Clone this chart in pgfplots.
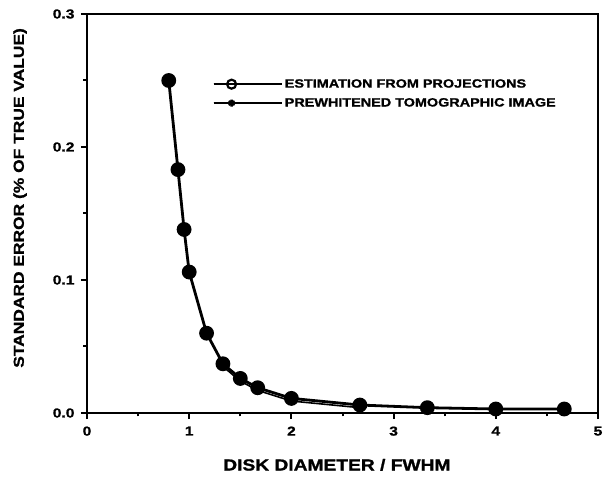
\documentclass[border=0pt]{standalone}
\usepackage{fontspec}
\setmainfont{Liberation Sans}
\newfontfamily\wfont{Liberation Sans Bold}[FakeStretch=1.2, FakeBold=1.2]
\usepackage{pgfplots}
\pgfplotsset{compat=1.18}

\begin{document}
\begin{tikzpicture}
\begin{axis}[
  scale only axis,
  width=511pt, height=399pt,
  xmin=0, xmax=5, ymin=0, ymax=0.3,
  xtick={0,1,2,3,4,5},
  minor xtick={0.5,1.5,2.5,3.5,4.5},
  ytick={0,0.1,0.2,0.3},
  minor ytick={0.05,0.15,0.25},
  yticklabel style={/pgf/number format/fixed,/pgf/number format/precision=1,/pgf/number format/fixed zerofill, xshift=-3pt},
  xticklabel style={yshift=-4pt},
  /pgf/number format/assume math mode=true,
  tick align=outside,
  xtick pos=bottom, ytick pos=left,
  major tick length=6pt, minor tick length=3.5pt,
  every tick/.style={line width=2pt},
  axis line style={line width=2.6pt},
  ticklabel style={font=\fontsize{13}{15}\wfont},
  xlabel={DISK DIAMETER / FWHM},
  ylabel={STANDARD ERROR (\% OF TRUE VALUE)},
  xlabel style={font=\fontsize{16}{18}\wfont, at={(axis description cs:0.489,-0.130)}, anchor=center},
  ylabel style={font=\fontsize{14.5}{16}\wfont, at={(axis description cs:-0.131,0.539)}, anchor=center},
  legend style={draw=none, fill=none, at={(0.245,0.842)}, anchor=north west, inner sep=0pt,
    font=\fontsize{12}{14}\wfont, row sep=5pt},
  legend cell align=left,
  legend image code/.code={%
    \draw[#1, mark repeat=2, mark phase=2] plot coordinates {(0pt,0pt) (18pt,0pt) (56pt,0pt)};
    \path (0pt,0pt) -- (68pt,0pt);},
]
% prewhitened tomographic image (filled)
\addplot[black, line width=2.8pt, mark=*, mark size=6pt, forget plot] coordinates {
(0.80,0.250) (0.89,0.183) (0.95,0.138) (1.00,0.106) (1.17,0.060)
(1.33,0.037) (1.50,0.026) (1.67,0.019) (2.00,0.011) (2.67,0.006)
(3.33,0.004) (4.00,0.003) (4.67,0.003)};
% estimation from projections (open)
\addplot[black, line width=1.6pt, mark=o, mark size=3.5pt, mark options={fill=white, line width=2.2pt}, forget plot] coordinates {
(1.33,0.035) (1.50,0.024) (1.67,0.017) (2.00,0.009) (2.67,0.004)};
\addlegendimage{black, line width=2.4pt, mark=o, mark size=4.5pt, mark options={fill=white, line width=2.2pt}}
\addlegendentry{ESTIMATION FROM PROJECTIONS}
\addlegendimage{black, line width=2.4pt, mark=asterisk, mark size=3.5pt, mark options={line width=2.5pt}}
\addlegendentry{PREWHITENED TOMOGRAPHIC IMAGE}
\end{axis}
\useasboundingbox ([shift={(-87pt,-68pt)}]current axis.south west) rectangle ([shift={(17pt,14pt)}]current axis.north east);
\end{tikzpicture}
\end{document}
